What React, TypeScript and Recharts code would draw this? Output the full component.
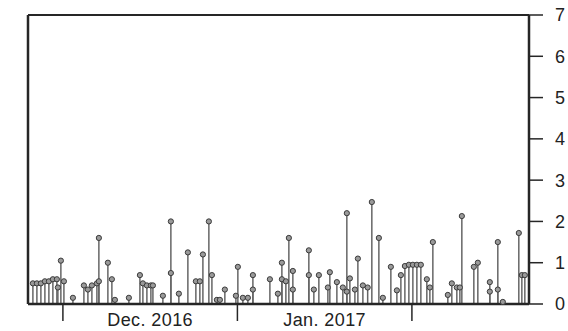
import React from 'react';
import { ScatterChart, Scatter, ErrorBar, XAxis, YAxis, ReferenceLine } from 'recharts';

// day offset from 1 Dec 2016
const eventDays = [
  -5.33, -4.62, -3.91, -3.2, -2.49, -1.78, -1.07, -0.89, -0.36, 0.18,
  1.78, 3.73, 4.44, 5.15, 6.04, 6.39, 6.39, 7.99, 8.7, 9.24,
  11.72, 13.68, 14.21, 14.92, 15.63, 15.99, 17.76, 19.18, 19.18, 20.6,
  22.2, 23.62, 24.33, 24.87, 25.93, 26.47, 27.35, 27.89, 28.77, 30.73,
  31.08, 31.97, 32.86, 33.75, 33.75, 36.77, 38.19, 38.9, 38.9, 39.61,
  40.14, 40.85, 40.85, 43.69, 43.69, 44.58, 45.47, 47.07, 47.42, 48.67,
  49.73, 50.44, 50.44, 50.98, 51.87, 52.4, 53.29, 54.14, 54.88, 56.13,
  56.84, 58.26, 59.33, 60.04, 60.75, 61.46, 62.17, 62.88, 63.59, 64.65,
  65.19, 65.72, 68.38, 69.09, 69.98, 70.52, 70.87, 73.0, 73.71, 75.84,
  75.84, 77.26, 77.26, 78.15, 80.99, 81.53, 82.06,
];
const eventValues = [
  0.5, 0.5, 0.5, 0.55, 0.55, 0.6, 0.6, 0.4, 1.05, 0.55,
  0.15, 0.45, 0.35, 0.45, 0.5, 1.6, 0.55, 1.0, 0.6, 0.1,
  0.15, 0.7, 0.5, 0.45, 0.45, 0.45, 0.2, 2.0, 0.75, 0.25,
  1.25, 0.55, 0.55, 1.2, 2.0, 0.7, 0.1, 0.1, 0.35, 0.2,
  0.9, 0.15, 0.15, 0.7, 0.35, 0.6, 0.25, 1.0, 0.6, 0.55,
  1.6, 0.8, 0.35, 1.3, 0.7, 0.35, 0.7, 0.4, 0.77, 0.53,
  0.4, 2.2, 0.3, 0.62, 0.35, 1.1, 0.45, 0.4, 2.47, 1.6,
  0.15, 0.9, 0.33, 0.7, 0.92, 0.95, 0.95, 0.95, 0.95, 0.6,
  0.4, 1.5, 0.22, 0.5, 0.4, 0.4, 2.13, 0.9, 1.0, 0.53,
  0.3, 1.5, 0.35, 0.05, 1.72, 0.7, 0.7,
];

const monthStarts = [0, 31, 62];
const monthMids = [15.5, 46.5];
const monthLabels = ['Dec. 2016', 'Jan. 2017'];
const yTicks = [0, 1, 2, 3, 4, 5, 6, 7];

const points = eventDays.map((day, i) => ({ day, v: eventValues[i], err: [eventValues[i], 0] }));

const FONT = '"Liberation Sans", Arial, sans-serif';
const AXIS = '#262626';

function MonthTick({ x, y, payload }: any) {
  const idx = monthMids.indexOf(payload.value);
  if (idx < 0) {
    return <line x1={x} x2={x} y1={y} y2={y + 17} stroke={AXIS} strokeWidth={1.5} />;
  }
  return (
    <text x={x} y={y + 22} textAnchor="middle" fontSize={18} letterSpacing={0.4} fontFamily={FONT} fill="#222">
      {monthLabels[idx]}
    </text>
  );
}

function Dot({ cx, cy }: any) {
  return <circle cx={cx} cy={cy} r={2.6} fill="#9a9a9a" stroke="#3a3a3a" strokeWidth={1} />;
}

export default function App() {
  return (
    <div style={{ position: 'absolute', left: 0, top: 0, width: 568, height: 331, background: '#fff' }}>
      <ScatterChart width={568} height={331} margin={{ top: 15, right: 0, left: 0, bottom: 0 }}>
        <XAxis
          type="number"
          dataKey="day"
          domain={[-6.2, 82.8]}
          ticks={[...monthStarts, ...monthMids]}
          interval={0}
          tickLine={false}
          tickSize={0}
          tickMargin={0}
          height={27}
          allowDataOverflow
          axisLine={{ stroke: AXIS, strokeWidth: 2.5 }}
          tick={<MonthTick />}
        />
        <YAxis
          yAxisId="left"
          orientation="left"
          type="number"
          domain={[0, 7]}
          ticks={yTicks}
          width={28}
          tickSize={15}
          tick={false}
          tickLine={{ stroke: AXIS, strokeWidth: 1.5 }}
          axisLine={{ stroke: AXIS, strokeWidth: 2.5 }}
        />
        <YAxis
          yAxisId="right"
          orientation="right"
          type="number"
          dataKey="v"
          domain={[0, 7]}
          ticks={yTicks}
          width={39}
          tickSize={14}
          tickMargin={12}
          tick={{ fontSize: 18, fill: '#222', fontFamily: FONT }}
          tickLine={{ stroke: AXIS, strokeWidth: 1.5 }}
          axisLine={{ stroke: AXIS, strokeWidth: 2.5 }}
        />
        <ReferenceLine yAxisId="right" y={7} stroke={AXIS} strokeWidth={2} />
        <Scatter yAxisId="right" data={points} shape={<Dot />} isAnimationActive={false}>
          <ErrorBar dataKey="err" direction="y" width={0} stroke="#666" strokeWidth={1.5} />
        </Scatter>
      </ScatterChart>
    </div>
  );
}
